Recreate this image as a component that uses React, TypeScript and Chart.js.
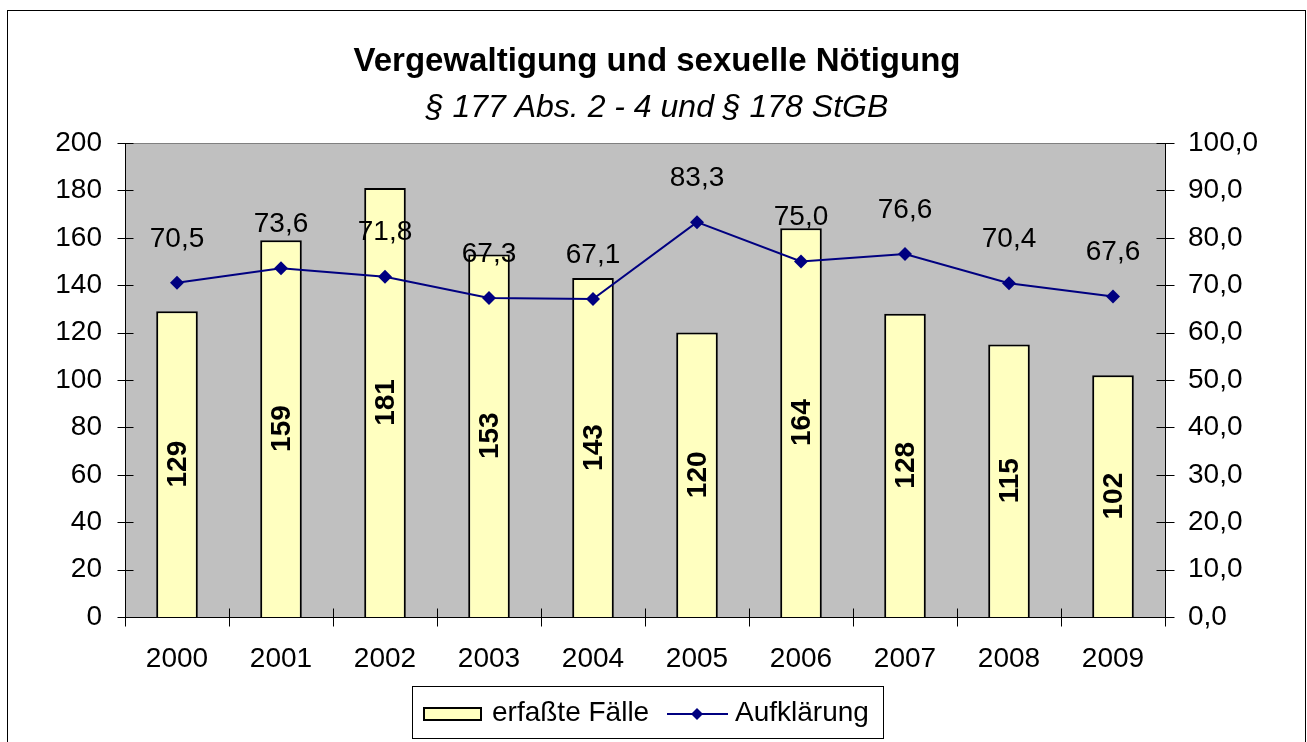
import React, { useEffect, useRef } from "react";
import { Chart, registerables } from "chart.js";

Chart.register(...registerables);

const years = ["2000", "2001", "2002", "2003", "2004", "2005", "2006", "2007", "2008", "2009"];
const erfassteFaelle = [129, 159, 181, 153, 143, 120, 164, 128, 115, 102];
const aufklaerung = [70.5, 73.6, 71.8, 67.3, 67.1, 83.3, 75.0, 76.6, 70.4, 67.6];
const titleText = "Vergewaltigung und sexuelle Nötigung";
const subtitleText = "§ 177 Abs. 2 - 4 und § 178 StGB";
const barLabel = "erfaßte Fälle";
const lineLabel = "Aufklärung";

const FONT = "'Liberation Sans', Arial, Helvetica, sans-serif";
const W = 1307;
const H = 742;
const BAR_FILL = "#FFFFC0";
const NAVY = "#000080";
const PLOT_BG = "#C0C0C0";

const fmt1 = (v: number) => v.toFixed(1).replace(".", ",");

const decorPlugin = {
  id: "decor",
  beforeDraw(chart: any) {
    const { ctx, chartArea } = chart;
    ctx.save();
    ctx.fillStyle = "#fff";
    ctx.fillRect(0, 0, W, H);
    // outer border
    ctx.strokeStyle = "#000";
    ctx.lineWidth = 1;
    ctx.strokeRect(7.5, 10.5, 1298, 740);
    // plot area
    ctx.fillStyle = PLOT_BG;
    ctx.fillRect(chartArea.left, chartArea.top, chartArea.right - chartArea.left, chartArea.bottom - chartArea.top);
    ctx.strokeStyle = "#808080";
    ctx.strokeRect(chartArea.left + 0.5, chartArea.top + 0.5, chartArea.right - chartArea.left, chartArea.bottom - chartArea.top);
    // titles
    ctx.fillStyle = "#000";
    ctx.textAlign = "center";
    ctx.textBaseline = "alphabetic";
    ctx.font = `bold 33px ${FONT}`;
    ctx.fillText(titleText, 657, 71);
    ctx.font = `italic 32px ${FONT}`;
    ctx.fillText(subtitleText, 657, 117);
    ctx.restore();
  },
  beforeDatasetsDraw(chart: any) {
    const { ctx, chartArea, scales } = chart;
    ctx.save();
    ctx.strokeStyle = "#000";
    ctx.lineWidth = 1;
    ctx.beginPath();
    // left axis
    const lx = chartArea.left + 0.5;
    ctx.moveTo(lx, chartArea.top);
    ctx.lineTo(lx, chartArea.bottom);
    scales.y.ticks.forEach((_t: any, i: number) => {
      const py = Math.round(scales.y.getPixelForTick(i)) + 0.5;
      ctx.moveTo(lx - 8, py);
      ctx.lineTo(lx + 8, py);
    });
    // right axis
    const rx = chartArea.right + 0.5;
    ctx.moveTo(rx, chartArea.top);
    ctx.lineTo(rx, chartArea.bottom);
    scales.y1.ticks.forEach((_t: any, i: number) => {
      const py = Math.round(scales.y1.getPixelForTick(i)) + 0.5;
      ctx.moveTo(rx - 9, py);
      ctx.lineTo(rx + 9, py);
    });
    // bottom axis
    const by = chartArea.bottom + 0.5;
    ctx.moveTo(chartArea.left, by);
    ctx.lineTo(chartArea.right, by);
    const n = scales.x.ticks.length;
    for (let i = 0; i <= n; i++) {
      const px = Math.round(scales.x.getPixelForValue(i - 0.5)) + 0.5;
      ctx.moveTo(px, by - 9);
      ctx.lineTo(px, by + 9);
    }
    ctx.stroke();
    ctx.restore();
  },
  afterDatasetsDraw(chart: any) {
    const { ctx } = chart;
    ctx.save();
    ctx.fillStyle = "#000";
    // bar labels
    const barMeta = chart.getDatasetMeta(1);
    ctx.font = `bold 28px ${FONT}`;
    ctx.textAlign = "center";
    ctx.textBaseline = "middle";
    barMeta.data.forEach((el: any, i: number) => {
      const cy = (el.y + el.base) / 2;
      ctx.save();
      ctx.translate(el.x, cy);
      ctx.rotate(-Math.PI / 2);
      ctx.fillText(String(erfassteFaelle[i]), 0, 1);
      ctx.restore();
    });
    // line labels
    const lineMeta = chart.getDatasetMeta(0);
    ctx.font = `28px ${FONT}`;
    lineMeta.data.forEach((el: any, i: number) => {
      ctx.fillText(fmt1(aufklaerung[i]), el.x, el.y - 44);
    });
    // legend
    ctx.strokeStyle = "#000";
    ctx.lineWidth = 1;
    ctx.strokeRect(412.5, 686.5, 471, 52);
    ctx.fillStyle = BAR_FILL;
    ctx.fillRect(423, 707, 59, 14);
    ctx.lineWidth = 2;
    ctx.strokeRect(424, 708, 57, 12);
    ctx.fillStyle = "#000";
    ctx.textAlign = "left";
    ctx.textBaseline = "alphabetic";
    ctx.font = `28px ${FONT}`;
    ctx.fillText(barLabel, 492, 721);
    ctx.strokeStyle = NAVY;
    ctx.lineWidth = 2;
    ctx.beginPath();
    ctx.moveTo(667, 714);
    ctx.lineTo(728, 714);
    ctx.stroke();
    ctx.fillStyle = NAVY;
    ctx.beginPath();
    ctx.moveTo(697, 708);
    ctx.lineTo(703, 714);
    ctx.lineTo(697, 720);
    ctx.lineTo(691, 714);
    ctx.closePath();
    ctx.fill();
    ctx.fillStyle = "#000";
    ctx.fillText(lineLabel, 735, 721);
    ctx.restore();
  },
};

export default function App() {
  const ref = useRef<HTMLCanvasElement | null>(null);
  useEffect(() => {
    if (!ref.current) return;
    Chart.defaults.font.family = FONT;
    const chart = new Chart(ref.current, {
      type: "bar",
      data: {
        labels: years,
        datasets: [
          {
            type: "line",
            label: lineLabel,
            data: aufklaerung,
            yAxisID: "y1",
            borderColor: NAVY,
            backgroundColor: NAVY,
            borderWidth: 2,
            pointStyle: "rectRot",
            pointRadius: 7,
            pointBackgroundColor: NAVY,
            pointBorderColor: NAVY,
            pointBorderWidth: 0,
            tension: 0,
            order: 0,
          } as any,
          {
            type: "bar",
            label: barLabel,
            data: erfassteFaelle,
            yAxisID: "y",
            backgroundColor: BAR_FILL,
            borderColor: "#000",
            borderWidth: 2,
            barPercentage: 0.4,
            categoryPercentage: 1,
            order: 1,
          },
        ],
      },
      options: {
        responsive: false,
        animation: false,
        events: [],
        layout: { padding: { top: 143, left: 0, right: 0, bottom: 0 } },
        plugins: {
          legend: { display: false },
          title: { display: false },
          tooltip: { enabled: false },
        },
        scales: {
          x: {
            grid: { display: false, drawTicks: false },
            border: { display: false },
            ticks: { color: "#000", font: { size: 28, family: FONT }, padding: 25, maxRotation: 0, autoSkip: false },
            afterFit: (s: any) => {
              s.height = 125;
            },
          },
          y: {
            position: "left",
            min: 0,
            max: 200,
            grid: { display: false, drawTicks: false },
            border: { display: false },
            ticks: { stepSize: 20, color: "#000", font: { size: 28, family: FONT }, padding: 23 },
            afterFit: (s: any) => {
              s.width = 125;
            },
          },
          y1: {
            position: "right",
            min: 0,
            max: 100,
            grid: { display: false, drawTicks: false },
            border: { display: false },
            ticks: {
              stepSize: 10,
              color: "#000",
              font: { size: 28, family: FONT },
              padding: 23,
              callback: (v: any) => fmt1(Number(v)),
            },
            afterFit: (s: any) => {
              s.width = 142;
            },
          },
        },
      },
      plugins: [decorPlugin],
    });
    return () => chart.destroy();
  }, []);
  return (
    <canvas
      ref={ref}
      width={W}
      height={H}
      style={{ position: "absolute", left: 0, top: 0, width: W, height: H, display: "block" }}
    />
  );
}
